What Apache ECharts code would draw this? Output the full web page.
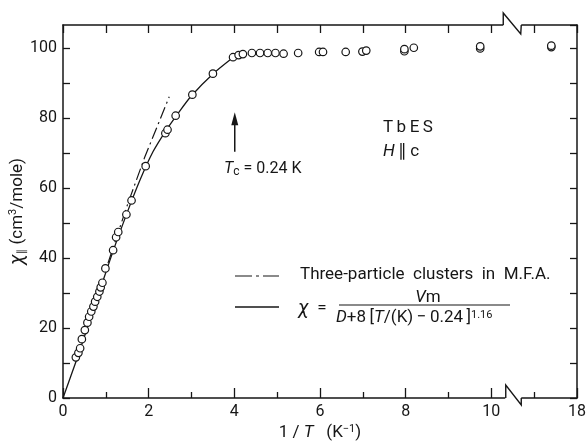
<!DOCTYPE html>
<html>
<head>
<meta charset="utf-8">
<script src="https://cdn.jsdelivr.net/npm/echarts@6/dist/echarts.min.js"></script>
<style>
  html, body { margin: 0; padding: 0; background: #fff; }
  #main { width: 588px; height: 442px; }
</style>
</head>
<body>
<div id="main"></div>
<script>
(function(){
    // measured susceptibility, TbES, H || c  (x = 1/T in K^-1)
    var obsX = [0.30, 0.36, 0.40, 0.44, 0.51, 0.57, 0.61, 0.66, 0.71, 0.75, 0.80, 0.85, 0.88, 0.92,
                0.99, 1.17, 1.24, 1.29, 1.48, 1.60, 1.93, 2.39, 2.44, 2.63, 3.02, 3.50, 3.97, 4.10,
                4.20, 4.41, 4.60, 4.78, 4.96, 5.15, 5.49, 5.98, 6.07, 6.60, 6.99, 7.08, 7.97, 7.97,
                8.19, 9.74, 9.74, 17.4, 17.4];
    var obsY = [11.6, 12.9, 14.2, 16.8, 19.4, 21.5, 23.2, 24.7, 26.1, 27.5, 28.9, 30.4, 31.6, 32.9,
                37.0, 42.2, 45.9, 47.4, 52.4, 56.4, 66.2, 75.6, 76.6, 80.6, 86.6, 92.6, 97.3, 97.9,
                98.2, 98.5, 98.5, 98.5, 98.5, 98.3, 98.5, 98.8, 98.8, 98.8, 98.9, 99.2, 99.0, 99.6,
                100.0, 99.8, 100.4, 100.2, 100.6];

    // solid curve (chi = Vm / (D + 8[T - 0.24]^1.16))
    var fitX = [0, 0.3, 0.6, 0.9, 1.2, 1.5, 1.8, 2.1, 2.4, 2.7, 3.0, 3.5, 3.97];
    var fitY = [0, 10.3, 21.2, 32.2, 43.0, 53.0, 62.3, 70.3, 76.3, 81.5, 86.3, 92.5, 97.2];

    // dash-dot: three-particle clusters in M.F.A.
    var mfaX = [1.05, 1.5, 1.9, 2.48];
    var mfaY = [38.5, 55.0, 68.5, 86.0];

    // axis break on the 1/T axis
    var breakFrom = 10.5, breakTo = 16.5;
    var yLabels = [0, 20, 40, 60, 80, 100];

    var ink = '#161616';
    var font = 'Roboto, "DejaVu Sans", sans-serif';

    function shown(x){ return x >= breakTo ? x - (breakTo - breakFrom) : x; }
    function real(v){ return v > breakFrom ? v + (breakTo - breakFrom) : v; }
    function pairs(xs, ys){
        return xs.map(function(x, i){ return [shown(x), ys[i]]; });
    }

    var axisLine = {show: true, onZero: false, lineStyle: {color: ink, width: 1.5}};

    var option = {
        animation: false,
        textStyle: {fontFamily: font, color: ink},
        grid: {left: 63, top: 25, right: 11, bottom: 44, outerBoundsMode: 'none'},
        xAxis: [
            {
                type: 'value', min: 0, max: 12, interval: 2, position: 'bottom',
                axisLine: axisLine,
                axisTick: {show: true, inside: true, length: 10, lineStyle: {color: ink, width: 1.3}},
                minorTick: {show: true, splitNumber: 2, length: 6, lineStyle: {color: ink, width: 1.3}},
                splitLine: {show: false},
                axisLabel: {color: ink, fontSize: 16, fontFamily: font, margin: 6,
                    formatter: function(v){ return String(real(v)); }},
                name: '1 / {i|T}   (K{sup|\u22121})',
                nameLocation: 'middle', nameGap: 26, nameMoveOverlap: false,
                nameTextStyle: {fontSize: 17, color: ink, fontFamily: font,
                    rich: {
                        i: {fontSize: 17, fontStyle: 'italic', fontFamily: font, color: ink},
                        sup: {fontSize: 11, verticalAlign: 'top', fontFamily: font, color: ink}
                    }}
            },
            {
                type: 'value', min: 0, max: 12, interval: 1, position: 'top',
                axisLine: axisLine,
                axisTick: {show: true, inside: true, length: 8, lineStyle: {color: ink, width: 1.3}},
                axisLabel: {show: false},
                splitLine: {show: false}
            }
        ],
        yAxis: [
            {
                type: 'value', min: 0, max: 106.5, interval: 10,
                axisLine: axisLine,
                axisTick: {show: true, inside: true, length: 7, lineStyle: {color: ink, width: 1.3}},
                splitLine: {show: false},
                axisLabel: {color: ink, fontSize: 16, fontFamily: font, margin: 6, showMaxLabel: false,
                    formatter: function(v){ return yLabels.indexOf(v) >= 0 ? String(v) : ''; }},
                name: '{chi|\u03c7}{sub|\u2225} (cm{sup|3}/mole)',
                nameLocation: 'middle', nameRotate: 90, nameGap: 35, nameMoveOverlap: false,
                nameTextStyle: {fontSize: 17, color: ink, fontFamily: font,
                    rich: {
                        chi: {fontSize: 20, fontStyle: 'italic', fontFamily: font, color: ink},
                        sub: {fontSize: 11, verticalAlign: 'bottom', fontFamily: font, color: ink},
                        sup: {fontSize: 11, verticalAlign: 'top', fontFamily: font, color: ink}
                    }}
            },
            {
                type: 'value', min: 0, max: 106.5, interval: 10, position: 'right',
                axisLine: axisLine,
                axisTick: {show: true, inside: true, length: 7, lineStyle: {color: ink, width: 1.3}},
                axisLabel: {show: false},
                splitLine: {show: false}
            }
        ],
        series: [
            {
                name: 'fit', type: 'line', data: pairs(fitX, fitY),
                symbol: 'none', smooth: 0.3, z: 2,
                lineStyle: {color: ink, width: 1.3}
            },
            {
                name: 'mfa', type: 'line', data: pairs(mfaX, mfaY),
                symbol: 'none', z: 2,
                lineStyle: {color: ink, width: 1.2, type: [12, 4, 2, 4]}
            },
            {
                name: 'measured', type: 'scatter', data: pairs(obsX, obsY),
                symbol: 'circle', symbolSize: 7.5, z: 5,
                itemStyle: {color: '#fff', borderColor: ink, borderWidth: 1.2, opacity: 1}
            }
        ]
    };

    var myChart = echarts.init(document.getElementById('main'));
    myChart.setOption(option);

    // annotations: axis break marks, Tc arrow, labels and legend
    var px = function(x, y){ return myChart.convertToPixel({gridIndex: 0}, [x, y]); };
    var bx = px(breakFrom, 0)[0];
    var yBot = px(0, 0)[1];
    var yTop = px(0, 106.5)[1];
    var a0 = px(4.01, 70.3), a1 = px(4.01, 81.6);

    var txt = function(x, y, text, extra){
        var style = {text: text, x: x, y: y, fill: ink, fontFamily: font, fontSize: 17,
            verticalAlign: 'middle', align: 'left'};
        for (var k in extra) style[k] = extra[k];
        return {type: 'text', z: 100, style: style};
    };
    var italic = {fontSize: 17, fontStyle: 'italic', fontFamily: font, fill: ink};

    myChart.setOption({
        graphic: [
            {type: 'rect', z: 99, shape: {x: bx - 7.5, y: yBot - 2, width: 16, height: 4}, style: {fill: '#fff'}},
            {type: 'polyline', z: 100, shape: {points: [[bx - 7, yBot], [bx - 7, yBot - 13], [bx + 8.5, yBot + 7], [bx + 8.5, yBot]]},
                style: {stroke: ink, lineWidth: 1.4, fill: null}},
            {type: 'rect', z: 99, shape: {x: bx - 9.5, y: yTop - 2, width: 18, height: 4}, style: {fill: '#fff'}},
            {type: 'polyline', z: 100, shape: {points: [[bx - 9.5, yTop], [bx - 9.5, yTop - 12], [bx + 8, yTop + 9], [bx + 8.5, yTop]]},
                style: {stroke: ink, lineWidth: 1.4, fill: null}},

            {type: 'line', z: 100, shape: {x1: a0[0], y1: a0[1], x2: a1[0], y2: a1[1] + 8}, style: {stroke: ink, lineWidth: 1.5}},
            {type: 'polygon', z: 100, shape: {points: [[a1[0], a1[1]], [a1[0] - 3.5, a1[1] + 13], [a1[0] + 3.5, a1[1] + 13]]},
                style: {fill: ink}},

            txt(224, 169, '{i|T}{sub|c} = 0.24 K', {fontSize: 16, rich: {
                i: {fontSize: 16, fontStyle: 'italic', fontFamily: font, fill: ink},
                sub: {fontSize: 12, fontFamily: font, fill: ink, verticalAlign: 'bottom', padding: [5, 0, 0, 0]}
            }}),
            txt(383, 128, 'T\u2009b\u2009E\u2009S'),
            txt(383, 152, '{i|H}\u2009\u2225\u2009c', {rich: {i: italic}}),

            {type: 'line', z: 100, shape: {x1: 235, y1: 276, x2: 279, y2: 276},
                style: {stroke: ink, lineWidth: 1.2, lineDash: [17, 4, 3, 4]}},
            {type: 'line', z: 100, shape: {x1: 235, y1: 307, x2: 279, y2: 307},
                style: {stroke: ink, lineWidth: 1.3}},
            txt(300, 275, 'Three-particle  clusters  in  M.F.A.'),
            txt(298, 309, '{c|\u03c7}  =', {rich: {c: {fontSize: 20, fontStyle: 'italic', fontFamily: font, fill: ink}}}),
            txt(428, 298, '{i|V}m', {align: 'center', rich: {i: italic}}),
            {type: 'line', z: 100, shape: {x1: 339, y1: 305, x2: 510, y2: 305}, style: {stroke: ink, lineWidth: 1.2}},
            txt(336, 318, '{i|D}+8\u2009[{i|T}/(K)\u2009\u2212\u20090.24\u2009]{sup|1.16}', {rich: {
                i: italic,
                sup: {fontSize: 11, fontFamily: font, fill: ink, verticalAlign: 'top'}
            }})
        ]
    });
})();
</script>
</body>
</html>
